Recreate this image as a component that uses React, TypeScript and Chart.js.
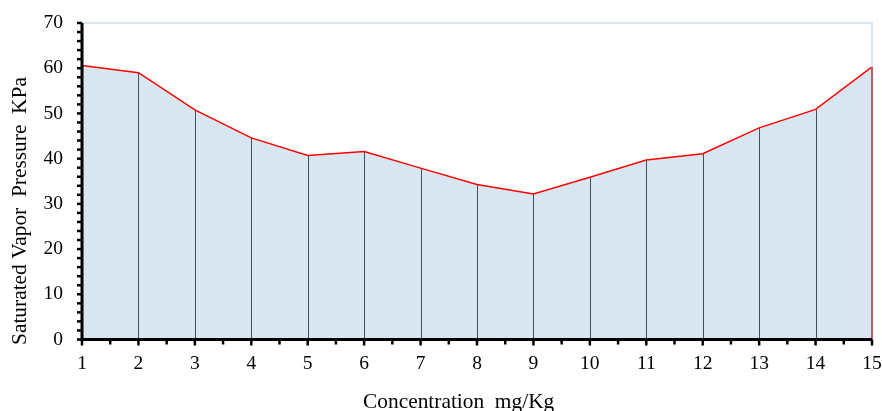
import React, { useEffect, useRef } from "react";
import { Chart, registerables } from "chart.js";

Chart.register(...registerables);

const concentrations = [1, 2, 3, 4, 5, 6, 7, 8, 9, 10, 11, 12, 13, 14, 15];
const pressures = [60.6, 59.0, 50.8, 44.6, 40.7, 41.6, 37.9, 34.3, 32.2, 35.9, 39.7, 41.1, 46.8, 50.9, 60.3];
const xTitle = "Concentration  mg/Kg";
const yTitle = "Saturated Vapor  Pressure  KPa";

const FONT = "'Liberation Serif', 'Times New Roman', serif";

export default function App() {
  const ref = useRef<HTMLCanvasElement | null>(null);

  useEffect(() => {
    const canvas = ref.current;
    if (!canvas) return;

    const dropLines = {
      id: "dropLines",
      beforeDatasetDraw(chart: any) {
        const { ctx, scales } = chart;
        const xs = scales.x;
        const ys = scales.y;
        ctx.save();
        ctx.strokeStyle = "#4b4f55";
        ctx.lineWidth = 1;
        concentrations.forEach((c, i) => {
          const x = Math.round(xs.getPixelForValue(c)) + 0.5;
          ctx.beginPath();
          ctx.moveTo(x, ys.getPixelForValue(pressures[i]));
          ctx.lineTo(x, ys.getPixelForValue(0));
          ctx.stroke();
        });
        ctx.restore();
      },
    };

    const frame = {
      id: "frame",
      afterDraw(chart: any) {
        const { ctx, chartArea, scales } = chart;
        const { left, right, top, bottom } = chartArea;
        const xs = scales.x;
        const ys = scales.y;
        ctx.save();
        ctx.strokeStyle = "#dbe8f4";
        ctx.lineWidth = 2;
        ctx.beginPath();
        ctx.moveTo(left, top);
        ctx.lineTo(right, top);
        ctx.lineTo(right, bottom);
        ctx.stroke();
        ctx.strokeStyle = "#b03030";
        ctx.lineWidth = 1.5;
        ctx.beginPath();
        ctx.moveTo(right, ys.getPixelForValue(pressures[pressures.length - 1]));
        ctx.lineTo(right, bottom);
        ctx.stroke();
        ctx.strokeStyle = "#000";
        ctx.lineWidth = 3;
        ctx.beginPath();
        ctx.moveTo(left, top);
        ctx.lineTo(left, bottom);
        ctx.lineTo(right, bottom);
        ctx.stroke();
        ctx.lineWidth = 2.5;
        for (let v = 0; v <= 70; v += 2) {
          const y = ys.getPixelForValue(v);
          ctx.beginPath();
          ctx.moveTo(left - 5, y);
          ctx.lineTo(left, y);
          ctx.stroke();
        }
        for (let v = 1; v <= 15; v += 0.5) {
          const x = xs.getPixelForValue(v);
          const major = Number.isInteger(v);
          ctx.beginPath();
          ctx.moveTo(x, bottom);
          ctx.lineTo(x, bottom + (major ? 6 : 5));
          ctx.stroke();
        }
        ctx.fillStyle = "#000";
        ctx.font = `21.4px ${FONT}`;
        ctx.textBaseline = "alphabetic";
        ctx.textAlign = "left";
        ctx.fillText(xTitle, 363, 408);
        ctx.save();
        ctx.translate(26, 345);
        ctx.rotate(-Math.PI / 2);
        ctx.fillText(yTitle, 0, 0);
        ctx.restore();
        ctx.restore();
      },
    };

    const chart = new Chart(canvas, {
      type: "line",
      data: {
        labels: concentrations,
        datasets: [
          {
            data: concentrations.map((c, i) => ({ x: c, y: pressures[i] })),
            borderColor: "#ff0000",
            borderWidth: 1.5,
            backgroundColor: "#d7e6f1",
            fill: "origin",
            pointRadius: 0,
            tension: 0,
          },
        ],
      },
      options: {
        responsive: false,
        animation: false,
        layout: { padding: { left: 0, right: 10, top: 23, bottom: 0 } },
        plugins: {
          legend: { display: false },
          tooltip: { enabled: false },
        },
        scales: {
          x: {
            type: "linear",
            min: 1,
            max: 15,
            grid: { display: false, drawTicks: false },
            border: { display: false },
            ticks: {
              stepSize: 1,
              padding: 13,
              color: "#000",
              font: { family: FONT, size: 19.5 },
              maxRotation: 0,
            },
            afterFit(scale: any) {
              scale.height = 71.5;
              scale.paddingLeft = 0;
              scale.paddingRight = 0;
              scale.paddingTop = 0;
              scale.paddingBottom = 0;
            },
          },
          y: {
            min: 0,
            max: 70,
            grid: { display: false, drawTicks: false },
            border: { display: false },
            ticks: {
              stepSize: 10,
              padding: 19,
              color: "#000",
              font: { family: FONT, size: 19.5 },
            },
            afterFit(scale: any) {
              scale.width = 82;
              scale.paddingLeft = 0;
              scale.paddingRight = 0;
              scale.paddingTop = 0;
              scale.paddingBottom = 0;
            },
          },
        },
      },
      plugins: [dropLines, frame],
    });

    return () => chart.destroy();
  }, []);

  return (
    <div style={{ position: "fixed", left: 0, top: 0, width: 882, height: 411, background: "#fff" }}>
      <canvas ref={ref} width={882} height={411} />
    </div>
  );
}
